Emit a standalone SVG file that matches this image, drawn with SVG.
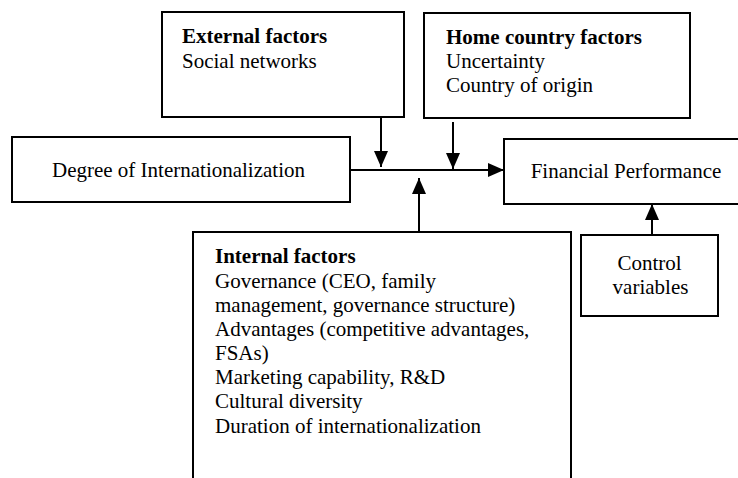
<svg xmlns="http://www.w3.org/2000/svg" width="738" height="478" viewBox="0 0 738 478">
<style>
.box{fill:#fff;stroke:#000;stroke-width:2}
.ln{stroke:#000;stroke-width:2;fill:none}
</style>
<defs>
<marker id="ah" markerUnits="userSpaceOnUse" markerWidth="16" markerHeight="14" refX="16" refY="7" orient="auto">
<path d="M0,0 L16,7 L0,14 z" fill="#000"/>
</marker>
</defs>
<rect width="738" height="478" fill="#fff"/>
<g id="connectors">
<line class="ln" x1="350" y1="170" x2="504" y2="170" marker-end="url(#ah)"/>
<line class="ln" x1="381" y1="117" x2="381" y2="167" marker-end="url(#ah)"/>
<line class="ln" x1="453" y1="122" x2="453" y2="169" marker-end="url(#ah)"/>
<line class="ln" x1="419" y1="232" x2="419" y2="178" marker-end="url(#ah)"/>
<line class="ln" x1="652" y1="235" x2="652" y2="204" marker-end="url(#ah)"/>
</g>
<g id="external">
<rect class="box" x="162" y="12" width="242" height="105"/>
<text x="182" y="43" style="font-family:'Liberation Serif',serif;font-size:21px;font-weight:bold">External factors</text>
<text x="182" y="68" style="font-family:'Liberation Serif',serif;font-size:21px">Social networks</text>
</g>
<g id="home">
<rect class="box" x="424" y="13" width="266" height="105"/>
<text x="446" y="44" style="font-family:'Liberation Serif',serif;font-size:21px;font-weight:bold">Home country factors</text>
<text x="446" y="68" style="font-family:'Liberation Serif',serif;font-size:21px">Uncertainty</text>
<text x="446" y="92" style="font-family:'Liberation Serif',serif;font-size:21px">Country of origin</text>
</g>
<g id="degree">
<rect class="box" x="12" y="137" width="338" height="65"/>
<text x="178.5" y="177" text-anchor="middle" style="font-family:'Liberation Serif',serif;font-size:21px">Degree of Internationalization</text>
</g>
<g id="financial">
<rect class="box" x="504" y="139" width="245" height="65"/>
<text x="626" y="178" text-anchor="middle" style="font-family:'Liberation Serif',serif;font-size:21px">Financial Performance</text>
</g>
<g id="internal">
<rect class="box" x="193" y="232" width="378" height="260"/>
<text x="215" y="263" style="font-family:'Liberation Serif',serif;font-size:21px;font-weight:bold">Internal factors</text>
<text x="215" y="288" style="font-family:'Liberation Serif',serif;font-size:21px">Governance (CEO, family</text>
<text x="215" y="312" style="font-family:'Liberation Serif',serif;font-size:21px">management, governance structure)</text>
<text x="215" y="336" style="font-family:'Liberation Serif',serif;font-size:21px">Advantages (competitive advantages,</text>
<text x="215" y="360" style="font-family:'Liberation Serif',serif;font-size:21px">FSAs)</text>
<text x="215" y="384" style="font-family:'Liberation Serif',serif;font-size:21px">Marketing capability, R&amp;D</text>
<text x="215" y="408" style="font-family:'Liberation Serif',serif;font-size:21px">Cultural diversity</text>
<text x="215" y="433" style="font-family:'Liberation Serif',serif;font-size:21px">Duration of internationalization</text>
</g>
<g id="control">
<rect class="box" x="581" y="235" width="137" height="81"/>
<text x="649.5" y="270" text-anchor="middle" style="font-family:'Liberation Serif',serif;font-size:21px">Control</text>
<text x="650.5" y="294" text-anchor="middle" style="font-family:'Liberation Serif',serif;font-size:21px">variables</text>
</g>
</svg>
